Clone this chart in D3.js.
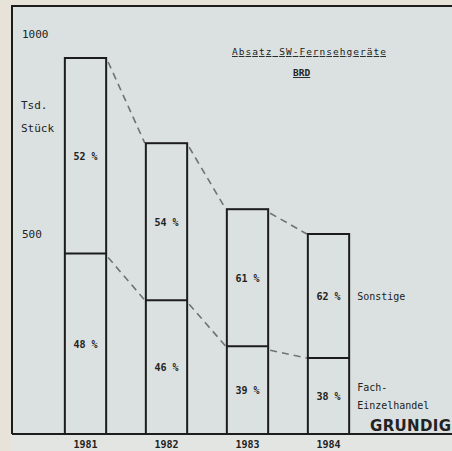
<!DOCTYPE html>
<html>
<head>
<meta charset="utf-8">
<script src="https://cdn.jsdelivr.net/npm/d3@7"></script>
<style>
  html, body { margin: 0; padding: 0; background: #e8e3d9; }
  svg { display: block; }
  text { font-family: "DejaVu Sans Mono", monospace; fill: #222; }
</style>
</head>
<body>
<div id="chart"></div>
<script>
// data
const years = ['1981', '1982', '1983', '1984'];
const totals = [940, 727, 562, 500];          // Tsd. Stück
const fachShare = [48, 46, 39, 38];           // % Fach-Einzelhandel
const otherShare = [52, 54, 61, 62];          // % Sonstige
const yTicks = [500, 1000];

const width = 452, height = 451;
const frame = { left: 12, top: 6, base: 434 };

const svg = d3.select('#chart')
    .append('svg')
    .attr('width', width)
    .attr('height', height);

// background panel
svg.append('rect')
    .attr('x', frame.left).attr('y', frame.top)
    .attr('width', width - frame.left).attr('height', frame.base - frame.top)
    .attr('fill', '#dbe1e0');
svg.append('rect')
    .attr('x', frame.left).attr('y', frame.base)
    .attr('width', width - frame.left).attr('height', height - frame.base)
    .attr('fill', '#e2e5e2');

const x = d3.scaleBand()
    .domain(years)
    .range([45, 369])
    .paddingInner(0.49)
    .paddingOuter(0.245);

const y = d3.scaleLinear()
    .domain([0, 1000])
    .range([frame.base, 34]);

const rows = years.map((yr, i) => ({
    year: yr,
    total: totals[i],
    fach: totals[i] * fachShare[i] / 100,
    fachPct: fachShare[i],
    otherPct: otherShare[i]
}));

// frame lines
const ink = '#1c1c1c';
svg.append('path')
    .attr('d', `M${frame.left},${frame.base}V${frame.top}H${width}`)
    .attr('fill', 'none').attr('stroke', ink).attr('stroke-width', 2);
svg.append('line')
    .attr('x1', frame.left).attr('x2', width)
    .attr('y1', frame.base).attr('y2', frame.base)
    .attr('stroke', ink).attr('stroke-width', 2);

// y tick labels
svg.selectAll('.ytick')
    .data(yTicks)
    .enter()
    .append('text')
    .attr('class', 'ytick')
    .attr('x', 22)
    .attr('y', d => y(d) + 4)
    .attr('font-size', 11)
    .text(d => d);

svg.append('text').attr('x', 21).attr('y', 109).attr('font-size', 11).text('Tsd.');
svg.append('text').attr('x', 21).attr('y', 132).attr('font-size', 11).text('Stück');

// dashed connector lines
const dash = (key) => {
    for (let i = 0; i < rows.length - 1; i++) {
        svg.append('line')
            .attr('x1', x(rows[i].year) + x.bandwidth() + 2)
            .attr('y1', y(rows[i][key]) + 4)
            .attr('x2', x(rows[i + 1].year) - 1)
            .attr('y2', y(rows[i + 1][key]))
            .attr('stroke', '#6e7474')
            .attr('stroke-width', 1.6)
            .attr('stroke-dasharray', '7,5');
    }
};
dash('total');
dash('fach');

// bars: outer box and split line
const bars = svg.selectAll('.bar')
    .data(rows)
    .enter()
    .append('g')
    .attr('class', 'bar');

bars.append('rect')
    .attr('x', d => x(d.year))
    .attr('y', d => y(d.total))
    .attr('width', x.bandwidth())
    .attr('height', d => y(0) - y(d.total))
    .attr('fill', 'none')
    .attr('stroke', ink)
    .attr('stroke-width', 2);

bars.append('line')
    .attr('x1', d => x(d.year))
    .attr('x2', d => x(d.year) + x.bandwidth())
    .attr('y1', d => y(d.fach))
    .attr('y2', d => y(d.fach))
    .attr('stroke', ink)
    .attr('stroke-width', 2);

bars.append('text')
    .attr('x', d => x(d.year) + x.bandwidth() / 2)
    .attr('y', d => (y(d.total) + y(d.fach)) / 2 + 4)
    .attr('text-anchor', 'middle')
    .attr('font-size', 10)
    .attr('font-weight', 'bold')
    .text(d => d.otherPct + ' %');

bars.append('text')
    .attr('x', d => x(d.year) + x.bandwidth() / 2)
    .attr('y', d => (y(d.fach) + y(0)) / 2 + 4)
    .attr('text-anchor', 'middle')
    .attr('font-size', 10)
    .attr('font-weight', 'bold')
    .text(d => d.fachPct + ' %');

bars.append('text')
    .attr('x', d => x(d.year) + x.bandwidth() / 2)
    .attr('y', 448)
    .attr('text-anchor', 'middle')
    .attr('font-size', 10)
    .attr('font-weight', 'bold')
    .text(d => d.year);

// title
svg.append('text')
    .attr('x', 232).attr('y', 55)
    .attr('font-size', 9.5)
    .attr('textLength', 154)
    .attr('text-decoration', 'underline')
    .text('Absatz SW-Fernsehgeräte');
svg.append('text')
    .attr('x', 293).attr('y', 76)
    .attr('font-size', 9.5)
    .attr('font-weight', 'bold')
    .attr('text-decoration', 'underline')
    .text('BRD');

// legend
const last = rows[rows.length - 1];
const lx = x(last.year) + x.bandwidth() + 8;
svg.append('text').attr('x', lx).attr('y', (y(last.total) + y(last.fach)) / 2 + 4)
    .attr('font-size', 10).text('Sonstige');
svg.append('text').attr('x', lx).attr('y', 391).attr('font-size', 10).text('Fach-');
svg.append('text').attr('x', lx).attr('y', 409).attr('font-size', 10).text('Einzelhandel');

svg.append('text')
    .attr('x', 370).attr('y', 431)
    .attr('font-weight', 'bold')
    .attr('font-size', 15)
    .attr('textLength', 81)
    .style('font-family', '"DejaVu Sans", sans-serif')
    .text('GRUNDIG');
</script>
</body>
</html>
